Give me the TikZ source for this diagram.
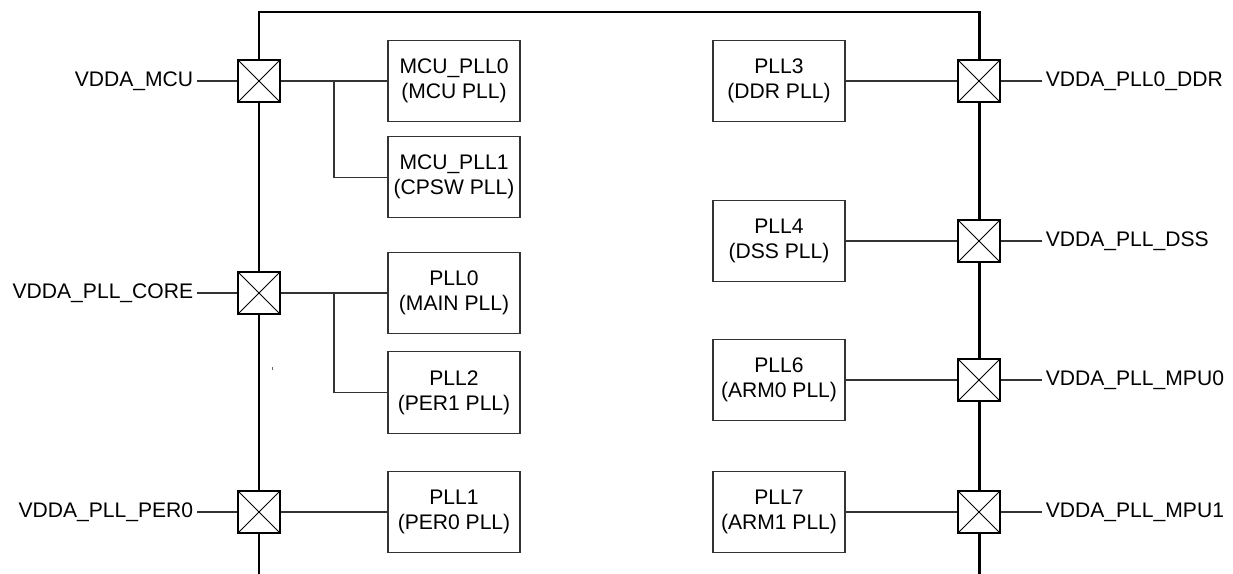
\documentclass[tikz,border=0pt]{standalone}
\usepackage{fontspec}
\setmainfont{Liberation Sans}
\usetikzlibrary{positioning}

\begin{document}
\begin{tikzpicture}[
  x=0.02cm, y=-0.02cm,
  font=\fontsize{12}{14}\selectfont,
  % --- line styles ---
  bus/.style={line width=1.7pt},
  wire/.style={line width=0.6pt, draw=black!80},
  % --- node styles ---
  pad/.style={
    draw, fill=white, line width=1.1pt,
    minimum size=0.84cm, inner sep=0pt,
    path picture={
      \draw[line width=0.5pt]
        (path picture bounding box.north west) -- (path picture bounding box.south east)
        (path picture bounding box.north east) -- (path picture bounding box.south west);
    }
  },
  pll/.style={
    draw=black!80, line width=0.6pt,
    minimum width=2.64cm, minimum height=1.63cm,
    align=center, inner sep=2pt
  },
  rail/.style={inner sep=2pt},
]

\useasboundingbox (0,0) rectangle (1233,574);

% ══════════════════════════════════════════════
% CHIP OUTLINE
% ══════════════════════════════════════════════

\draw[bus] (259,574) -- (259,12) -- (979,12) -- (979,574);
\draw[line width=0.4pt, black!60] (272,367) -- (272,370);

% ══════════════════════════════════════════════
% PADS
% ══════════════════════════════════════════════

\node[pad] (pmcu)  at (259,81)  {};
\node[pad] (pcore) at (259,293) {};
\node[pad] (pper)  at (259,512) {};

\node[pad] (pddr)  at (979,81)  {};
\node[pad] (pdss)  at (979,241) {};
\node[pad] (pmpu0) at (979,380) {};
\node[pad] (pmpu1) at (979,512) {};

% ══════════════════════════════════════════════
% SUPPLY NAMES
% ══════════════════════════════════════════════

\node[rail, anchor=east] (lmcu)  at (197,81)  {VDDA\_MCU};
\node[rail, anchor=east] (lcore) at (197,293) {VDDA\_PLL\_CORE};
\node[rail, anchor=east] (lper)  at (197,512) {VDDA\_PLL\_PER0};

\node[rail, anchor=west] (lddr)  at (1042,81)  {VDDA\_PLL0\_DDR};
\node[rail, anchor=west] (ldss)  at (1042,241) {VDDA\_PLL\_DSS};
\node[rail, anchor=west] (lmpu0) at (1042,380) {VDDA\_PLL\_MPU0};
\node[rail, anchor=west] (lmpu1) at (1042,512) {VDDA\_PLL\_MPU1};

\draw[wire] (lmcu.east)  -- (pmcu.west);
\draw[wire] (lcore.east) -- (pcore.west);
\draw[wire] (lper.east)  -- (pper.west);
\draw[wire] (pddr.east)  -- (lddr.west);
\draw[wire] (pdss.east)  -- (ldss.west);
\draw[wire] (pmpu0.east) -- (lmpu0.west);
\draw[wire] (pmpu1.east) -- (lmpu1.west);

% ══════════════════════════════════════════════
% PLL BLOCKS (left)
% ══════════════════════════════════════════════

\node[pll] (mcupll0) at (454,81) {MCU\_PLL0\\(MCU PLL)};
\node[pll, below=0.27cm of mcupll0] (mcupll1) {MCU\_PLL1\\(CPSW PLL)};

\node[pll] (pll0) at (454,293) {PLL0\\(MAIN PLL)};
\node[pll, below=0.34cm of pll0] (pll2) {PLL2\\(PER1 PLL)};

\node[pll] (pll1) at (454,512) {PLL1\\(PER0 PLL)};

% ══════════════════════════════════════════════
% PLL BLOCKS (right)
% ══════════════════════════════════════════════

\node[pll] (pll3) at (779,81)  {PLL3\\(DDR PLL)};
\node[pll] (pll4) at (779,241) {PLL4\\(DSS PLL)};
\node[pll] (pll6) at (779,380) {PLL6\\(ARM0 PLL)};
\node[pll] (pll7) at (779,512) {PLL7\\(ARM1 PLL)};

% ══════════════════════════════════════════════
% PAD TO PLL WIRES
% ══════════════════════════════════════════════

\coordinate (bmcu)  at (334,81);
\coordinate (bcore) at (334,293);

\draw[wire] (pmcu.east) -- (mcupll0.west);
\draw[wire] (bmcu) |- (mcupll1.west);

\draw[wire] (pcore.east) -- (pll0.west);
\draw[wire] (bcore) |- (pll2.west);

\draw[wire] (pper.east) -- (pll1.west);

\draw[wire] (pll3.east) -- (pddr.west);
\draw[wire] (pll4.east) -- (pdss.west);
\draw[wire] (pll6.east) -- (pmpu0.west);
\draw[wire] (pll7.east) -- (pmpu1.west);

\end{tikzpicture}
\end{document}
